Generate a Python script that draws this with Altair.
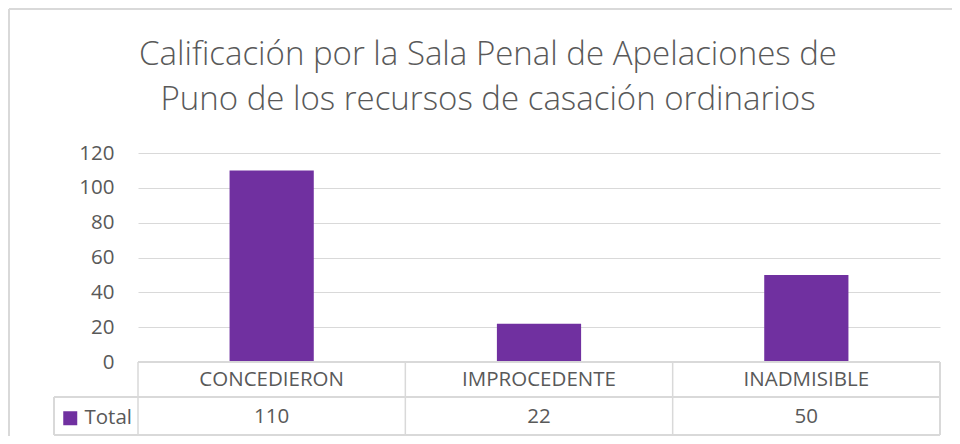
import altair as alt
import pandas as pd

# ---- data ----
categories = ["CONCEDIERON", "IMPROCEDENTE", "INADMISIBLE"]
totals = [110, 22, 50]
series_name = "Total"
y_ticks = [0, 20, 40, 60, 80, 100, 120]
title_lines = [
    "Calificación por la Sala Penal de Apelaciones de",
    "Puno de los recursos de casación ordinarios",
]

BAR = "#7030A0"
GRID = "#d9d9d9"
TXT = "#595959"
FONT = "Open Sans"
FS = 20.5

W, H = 802, 209

df = pd.DataFrame({"cat": categories, "value": totals, "serie": [series_name] * len(categories)})
titles = pd.DataFrame({"line": title_lines, "row": list(range(len(title_lines)))})

xscale = alt.Scale(domain=categories, paddingInner=0, paddingOuter=0)
yscale = alt.Scale(domain=[y_ticks[0], y_ticks[-1]], nice=False)

base = alt.Chart(df)

bars = base.mark_bar(width={"band": 0.315}).encode(
    x=alt.X("cat:N", scale=xscale, axis=None, sort=categories),
    y=alt.Y(
        "value:Q",
        scale=yscale,
        axis=alt.Axis(
            values=y_ticks, title=None, domain=False, ticks=False, tickSize=0,
            labelPadding=24, labelFontSize=FS, labelColor=TXT, labelFont=FONT,
            gridColor=GRID, gridWidth=1,
        ),
    ),
    color=alt.Color(
        "serie:N",
        scale=alt.Scale(domain=[series_name], range=[BAR]),
        legend=alt.Legend(
            title=None, orient="none", legendX=-78, legendY=255, padding=0,
            symbolType="square", symbolSize=196, symbolStrokeWidth=0,
            labelFontSize=FS, labelFont=FONT, labelColor=TXT, labelOffset=4,
        ),
    ),
)

ROW1, ROW2 = 244, 282

# data table
vlines = base.mark_rule(color=GRID, strokeWidth=1.5).encode(
    x=alt.X("cat:N", scale=xscale, bandPosition=0, sort=categories),
    y=alt.value(H), y2=alt.value(ROW2),
)
vline_right = alt.Chart(df).mark_rule(color=GRID, strokeWidth=1.5).encode(
    x=alt.value(W), y=alt.value(H), y2=alt.value(ROW2)
)
vline_left = alt.Chart(df).mark_rule(color=GRID, strokeWidth=1.5).encode(
    x=alt.value(-84), y=alt.value(ROW1), y2=alt.value(ROW2)
)
h_top = alt.Chart(df).mark_rule(color=GRID, strokeWidth=1.5).encode(
    x=alt.value(0), x2=alt.value(W), y=alt.value(H)
)
h_mid = alt.Chart(df).mark_rule(color=GRID, strokeWidth=1.5).encode(
    x=alt.value(-84), x2=alt.value(W), y=alt.value(ROW1)
)
h_bot = alt.Chart(df).mark_rule(color=GRID, strokeWidth=1.5).encode(
    x=alt.value(-84), x2=alt.value(W), y=alt.value(ROW2)
)

cat_text = base.mark_text(fontSize=FS, font=FONT, color=TXT, baseline="middle").encode(
    x=alt.X("cat:N", scale=xscale, sort=categories), y=alt.value(227), text="cat:N"
)
val_text = base.mark_text(fontSize=FS, font=FONT, color=TXT, baseline="middle").encode(
    x=alt.X("cat:N", scale=xscale, sort=categories), y=alt.value(264), text="value:Q"
)

# title
title_text = alt.Chart(titles).mark_text(
    fontSize=33, font=FONT, fontWeight=300, color=TXT, baseline="alphabetic", align="center"
).encode(
    x=alt.value(350),
    y=alt.Y("row:Q", scale=alt.Scale(domain=[0, 1], range=[-88, -43]), axis=None),
    text="line:N",
)

# outer border
b_top = alt.Chart(df).mark_rule(color=GRID, strokeWidth=1.5).encode(
    x=alt.value(-129), x2=alt.value(830), y=alt.value(-144)
)
b_left = alt.Chart(df).mark_rule(color=GRID, strokeWidth=1.5).encode(
    x=alt.value(-129), y=alt.value(-144), y2=alt.value(300)
)

chart = alt.layer(
    b_top, b_left, bars, vlines, vline_right, vline_left, h_top, h_mid, h_bot,
    cat_text, val_text, title_text,
).resolve_scale(y="independent").properties(
    width=W, height=H,
    autosize=alt.AutoSizeParams(type="none"),
    padding={"left": 130, "top": 145, "right": 12, "bottom": 74},
    background="white",
).configure_view(stroke=None)

chart.save("out.html", embed_options={"renderer": "svg", "actions": False})
